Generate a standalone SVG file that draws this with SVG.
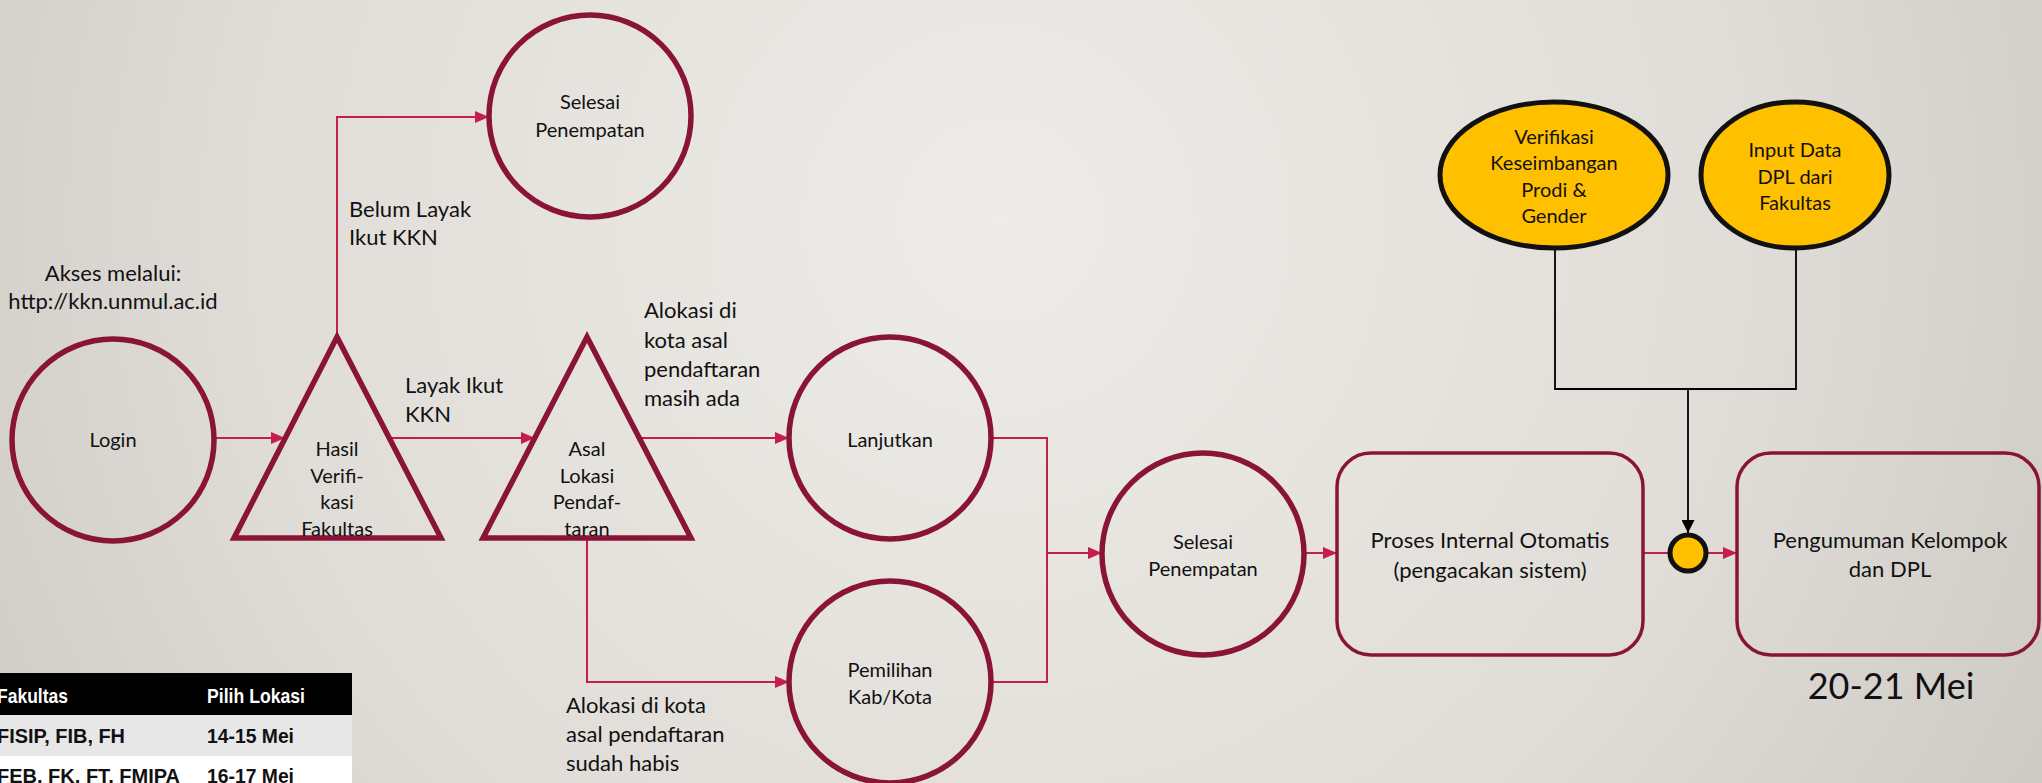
<svg xmlns="http://www.w3.org/2000/svg" width="2042" height="783" viewBox="0 0 2042 783">
<defs>
<radialGradient id="bg" gradientUnits="userSpaceOnUse" cx="1000" cy="220" r="1250">
<stop offset="0" stop-color="#eeece8"/>
<stop offset="0.6" stop-color="#e0ddd8"/>
<stop offset="1" stop-color="#cbc8c2"/>
</radialGradient>
<marker id="ar" markerUnits="userSpaceOnUse" markerWidth="14" markerHeight="12" viewBox="0 0 14 12" refX="14" refY="6" orient="auto">
<path d="M0,0 L14,6 L0,12 z" fill="#c41e4a"/>
</marker>
<marker id="ab" markerUnits="userSpaceOnUse" markerWidth="13" markerHeight="13" viewBox="0 0 13 13" refX="13" refY="6.5" orient="auto">
<path d="M0,0 L13,6.5 L0,13 z" fill="#000"/>
</marker>
<style>
.n{fill:none;stroke:#8a1436;stroke-width:5.5}
.r{fill:none;stroke:#8a1436;stroke-width:3.5}
.y{fill:#ffc000;stroke:#111;stroke-width:5}
.c{fill:none;stroke:#c41e4a;stroke-width:2}
.k{fill:none;stroke:#000;stroke-width:1.8}
.t{font-family:Lato,"Open Sans",sans-serif;fill:#111;font-size:20px;text-anchor:middle}
.l{font-family:Lato,"Open Sans",sans-serif;fill:#111;font-size:22px}
.tb{font-family:"Liberation Sans Narrow","Liberation Sans",Arial,sans-serif;font-weight:bold;font-size:21px}
</style>
</defs>
<rect width="2042" height="783" fill="url(#bg)"/>

<g id="connectors">
<line class="c" x1="215" y1="438" x2="285" y2="438" marker-end="url(#ar)"/>
<polyline class="c" points="337,337 337,117 489,117" marker-end="url(#ar)"/>
<line class="c" x1="389" y1="438" x2="535" y2="438" marker-end="url(#ar)"/>
<line class="c" x1="639" y1="438" x2="789" y2="438" marker-end="url(#ar)"/>
<polyline class="c" points="587,538 587,682 789,682" marker-end="url(#ar)"/>
<polyline class="c" points="991,438 1047,438 1047,682 991,682"/>
<line class="c" x1="1047" y1="553" x2="1102" y2="553" marker-end="url(#ar)"/>
<line class="c" x1="1304" y1="553" x2="1337" y2="553" marker-end="url(#ar)"/>
<line class="c" x1="1643" y1="553" x2="1670" y2="553"/>
<line class="c" x1="1706" y1="553" x2="1737" y2="553" marker-end="url(#ar)"/>
<polyline class="k" points="1555,250 1555,389 1796,389 1796,250"/>
<line class="k" x1="1688" y1="389" x2="1688" y2="533" marker-end="url(#ab)"/>
</g>

<g id="login">
<circle class="n" cx="113" cy="440" r="101"/>
<text class="t" x="113" y="447">Login</text>
</g>
<text class="l" x="113" y="281" text-anchor="middle">Akses melalui:</text>
<text class="l" x="113" y="309" text-anchor="middle">http://kkn.unmul.ac.id</text>

<g id="hasil-verifikasi">
<polygon class="n" points="337,337 234,538 441,538" stroke-linejoin="miter"/>
<text class="t" x="337" y="456">Hasil</text>
<text class="t" x="337" y="483">Verifi-</text>
<text class="t" x="337" y="509">kasi</text>
<text class="t" x="337" y="536">Fakultas</text>
</g>

<g id="selesai-1">
<circle class="n" cx="590" cy="116" r="101"/>
<text class="t" x="590" y="109">Selesai</text>
<text class="t" x="590" y="137">Penempatan</text>
</g>

<g id="asal-lokasi">
<polygon class="n" points="587,337 483,538 691,538"/>
<text class="t" x="587" y="456">Asal</text>
<text class="t" x="587" y="483">Lokasi</text>
<text class="t" x="587" y="509">Pendaf-</text>
<text class="t" x="587" y="536">taran</text>
</g>

<g id="labels">
<text class="l" x="349" y="217">Belum Layak</text>
<text class="l" x="349" y="245">Ikut KKN</text>
<text class="l" x="405" y="393">Layak Ikut</text>
<text class="l" x="405" y="422">KKN</text>
<text class="l" x="644" y="318">Alokasi di</text>
<text class="l" x="644" y="348">kota asal</text>
<text class="l" x="644" y="377">pendaftaran</text>
<text class="l" x="644" y="406">masih ada</text>
<text class="l" x="566" y="713">Alokasi di kota</text>
<text class="l" x="566" y="742">asal pendaftaran</text>
<text class="l" x="566" y="771">sudah habis</text>
</g>

<g id="lanjutkan">
<circle class="n" cx="890" cy="438" r="101"/>
<text class="t" x="890" y="447">Lanjutkan</text>
</g>

<g id="pemilihan">
<circle class="n" cx="890" cy="682" r="101"/>
<text class="t" x="890" y="677">Pemilihan</text>
<text class="t" x="890" y="704">Kab/Kota</text>
</g>

<g id="selesai-2">
<circle class="n" cx="1203" cy="554" r="101"/>
<text class="t" x="1203" y="549">Selesai</text>
<text class="t" x="1203" y="576">Penempatan</text>
</g>

<g id="proses">
<rect class="r" x="1337" y="453" width="306" height="202" rx="34"/>
<text class="l" x="1490" y="548" text-anchor="middle">Proses Internal Otomatis</text>
<text class="l" x="1490" y="578" text-anchor="middle">(pengacakan sistem)</text>
</g>

<g id="gabung">
<circle class="y" cx="1688" cy="553" r="18"/>
</g>

<g id="pengumuman">
<rect class="r" x="1737" y="453" width="302" height="202" rx="34"/>
<text class="l" x="1890" y="548" text-anchor="middle">Pengumuman Kelompok</text>
<text class="l" x="1890" y="577" text-anchor="middle">dan DPL</text>
</g>
<text x="1891" y="699" text-anchor="middle" font-family="Lato,'Open Sans',sans-serif" font-size="36" fill="#111">20-21 Mei</text>

<g id="verifikasi-keseimbangan">
<ellipse class="y" cx="1554" cy="175" rx="114" ry="73"/>
<text class="t" x="1554" y="144">Verifikasi</text>
<text class="t" x="1554" y="170">Keseimbangan</text>
<text class="t" x="1554" y="197">Prodi &amp;</text>
<text class="t" x="1554" y="223">Gender</text>
</g>

<g id="input-dpl">
<ellipse class="y" cx="1795" cy="175" rx="94" ry="73"/>
<text class="t" x="1795" y="157">Input Data</text>
<text class="t" x="1795" y="184">DPL dari</text>
<text class="t" x="1795" y="210">Fakultas</text>
</g>

<g id="jadwal-tabel">
<rect x="0" y="673" width="352" height="42" fill="#000"/>
<rect x="0" y="715" width="352" height="41" fill="#e7e7e7"/>
<rect x="0" y="756" width="352" height="27" fill="#fff"/>
<text class="tb" x="-3" y="703" fill="#fff" textLength="71" lengthAdjust="spacingAndGlyphs">Fakultas</text>
<text class="tb" x="207" y="703" fill="#fff" textLength="98" lengthAdjust="spacingAndGlyphs">Pilih Lokasi</text>
<text class="tb" x="-3" y="743" fill="#111" textLength="128" lengthAdjust="spacingAndGlyphs">FISIP, FIB, FH</text>
<text class="tb" x="207" y="743" fill="#111" textLength="87" lengthAdjust="spacingAndGlyphs">14-15 Mei</text>
<text class="tb" x="-3" y="783" fill="#111" textLength="183" lengthAdjust="spacingAndGlyphs">FEB, FK, FT, FMIPA</text>
<text class="tb" x="207" y="783" fill="#111" textLength="87" lengthAdjust="spacingAndGlyphs">16-17 Mei</text>
</g>
</svg>
